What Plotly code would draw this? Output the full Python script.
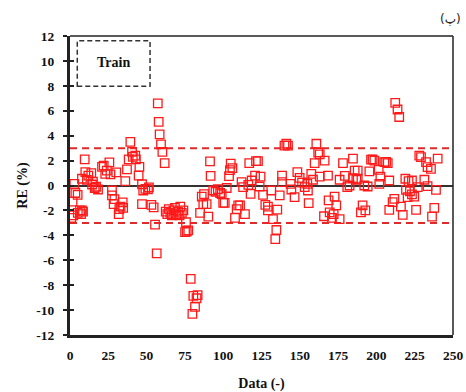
import plotly.graph_objects as go

# Data (index, relative error %)
data_x = [0.9, 1.7, 2.2, 2.8, 3.5, 5.0, 5.1, 6.5, 7.2, 7.8, 7.8, 8.5, 9.6, 10.0, 11.0, 12.0, 13.9, 14.4, 15.0, 16.1, 17.0, 18.3,
          20.9, 22.0, 23.0, 24.0, 25.7, 26.4, 27.4, 27.4, 28.5, 29.0, 30.2, 31.8, 32.2, 33.0, 34.4, 34.7, 36.1, 37.2, 38.3,
          39.4, 40.5, 41.0, 42.6, 43.0, 44.8, 45.3, 47.0, 47.0, 47.8, 49.2, 50.9, 51.5, 53.1, 54.6, 55.5, 56.6, 57.3, 57.9,
          58.5, 59.4, 60.3, 61.8, 62.5, 63.5, 64.5, 65.5, 66.5, 67.5, 68.5, 69.5, 70.5, 71.5, 72.0, 73.0, 74.0, 75.1, 75.7,
          76.2, 77.2, 78.8, 79.9, 80.5, 81.6, 82.6, 83.3, 84.9, 86.0, 87.0, 87.5, 89.2, 90.3, 91.4, 91.8, 93.5, 95.0, 96.5,
          98.0, 99.0, 100.0, 101.0, 102.3, 103.8, 104.4, 104.9, 106.0, 107.7, 108.8, 109.8, 111.0, 112.0, 113.0, 114.2,
          116.4, 117.0, 117.9, 118.6, 120.8, 121.4, 122.7, 123.8, 124.4, 126.0, 127.5, 129.2, 129.2, 131.4, 132.5, 134.0,
          134.7, 135.3, 136.9, 138.4, 138.4, 140.0, 141.2, 142.3, 144.0, 144.5, 146.6, 148.4, 149.9, 151.5, 153.2, 154.9,
          155.3, 155.8, 157.5, 158.6, 159.7, 160.8, 162.0, 163.0, 163.0, 165.8, 166.2, 168.4, 168.8, 169.5, 171.0, 172.1,
          172.7, 173.8, 176.0, 176.0, 178.2, 179.4, 181.0, 182.5, 184.7, 184.7, 185.8, 186.9, 187.8, 187.8, 189.9, 191.0,
          192.1, 192.8, 194.3, 195.4, 196.5, 197.5, 198.7, 201.5, 201.9, 202.6, 205.2, 206.3, 207.4, 208.4, 208.4, 210.6,
          211.7, 212.3, 213.8, 214.9, 216.0, 217.2, 218.9, 219.3, 220.4, 221.0, 221.9, 223.2, 223.2, 224.7, 225.9, 227.0,
          228.0, 229.1, 231.3, 232.4, 233.4, 233.4, 235.6, 236.3, 237.8, 238.9, 240.0]
data_re = [-2.6, -1.3, -2.4, 0.13, -0.6, -0.75, -2.2, -2.0, -2.3, 0.54, -2.0, -2.1, 2.1, 1.07, 0.45, 0.8, 1.0, 0.08, 0.3, -0.2, -0.1, -0.32,
           1.5, 1.6, 0.94, 1.2, 1.85, 0.9, -0.4, -0.8, -1.5, -1.1, 1.05, -2.3, -1.9, -1.7, -1.35, -1.8, 0.35, 1.3, 2.1,
           3.5, 2.7, 2.3, 2.4, 2.1, 0.8, 1.5, 0.1, -1.5, -0.4, -0.27, -0.3, -0.15, -1.55, -1.75, -3.14, -5.45, 6.6, 5.1,
           4.1, 3.3, 2.7, 1.8, -2.1, -2.3, -1.9, -2.2, -2.4, -2.0, -1.8, -2.3, -2.1, -2.4, -1.7, -2.2, -2.0, -3.75, -2.95,
           -3.7, -3.6, -7.5, -10.3, -8.86, -9.74, -9.05, -8.8, -2.2, -0.9, -1.5, -0.7, -1.5, -2.5, 1.93, 0.78, -0.4, -0.5, -0.3,
           -0.6, -0.7, -1.4, -1.4, -0.2, 0.75, 1.23, 1.75, 1.4, -2.6, -1.9, -1.6, -1.6, 0.27, -0.13, -2.3,
           0.05, 1.8, -0.67, 0.4, 0.8, 1.96, 1.96, -0.08, 0.72, -0.75, -1.56, -2.0, -1.7, -0.4, -2.7, -4.3,
           -3.57, -1.93, -0.8, 0.8, 0.27, 3.2, 3.35, 3.2, 0.13, -0.32, -0.94, 1.07, 0.62, 0.24, -0.13, 0.13,
           -0.4, -1.42, 0.94, 0.46, 1.8, 3.35, 2.65, 2.5, 0.72, -2.47, 2.0, 0.8, -1.2, -2.15, -2.6, -2.3,
           -0.89, -1.6, -2.7, 0.46, 1.8, 0.78, -0.13, 0.0, 2.15, 0.6, 1.2, 0.46, 0.54, 1.2, -2.15, -1.6,
           0.0, -2.0, -0.08, 1.13, 2.07, 2.1, 2.0, 1.26, 0.13, 0.72, 1.88, 1.9, 1.8, 0.4, -1.96, -1.34,
           -1.07, 6.63, 6.1, 5.5, -1.7, -2.36, 0.54, -0.35, -0.94, 0.35, -0.46, 0.4, -0.72, -0.9, -1.96, -0.13,
           2.4, 2.28, 0.46, 1.88, 1.47, -0.05, 1.34, -2.5, -1.8, -0.35, 2.15]

limits = [3, -3]
x_range = [0, 250]
y_range = [-12, 12]
x_ticks = [0, 25, 50, 75, 100, 125, 150, 175, 200, 225, 250]
y_ticks = [-12, -10, -8, -6, -4, -2, 0, 2, 4, 6, 8, 10, 12]
legend_label = "Train"
panel_label = "(پ)"

serif = "Liberation Serif, Times New Roman, serif"

fig = go.Figure()
fig.add_trace(go.Scatter(
    x=data_x, y=data_re, mode="markers",
    marker=dict(symbol="square-open", size=8.5, color="#ff1a1a", line=dict(width=1.3, color="#ff1a1a")),
    showlegend=False, hoverinfo="skip"))
# dummy trace so the overlay axis (inner ticks) is drawn
fig.add_trace(go.Scatter(x=[None], y=[None], yaxis="y2", mode="markers", showlegend=False, hoverinfo="skip"))

for v in limits:
    fig.add_shape(type="line", xref="x", yref="y", x0=x_range[0], x1=x_range[1], y0=v, y1=v,
                  line=dict(color="#e02a2a", width=2, dash="7px,5px"), layer="below")

# thin top/right frame
fig.add_shape(type="line", xref="paper", yref="paper", x0=0, x1=1, y0=1, y1=1, line=dict(color="#222", width=1.5))
fig.add_shape(type="line", xref="paper", yref="paper", x0=1, x1=1, y0=0, y1=1, line=dict(color="#222", width=1.5))

# legend-like dashed box
fig.add_shape(type="rect", xref="paper", yref="paper", x0=0.019, x1=0.209, y0=0.832, y1=0.984,
              line=dict(color="#333", width=1.5, dash="5px,3px"), fillcolor="rgba(0,0,0,0)")
fig.add_annotation(xref="paper", yref="paper", x=0.114, y=0.91, xanchor="center", yanchor="middle",
                   text="<b>" + legend_label + "</b>",
                   showarrow=False, font=dict(family=serif, size=14, color="#111"))

fig.add_annotation(xref="paper", yref="paper", x=1.027, y=1.058, xanchor="right", yanchor="middle",
                   text=panel_label, showarrow=False, font=dict(family="DejaVu Sans", size=12, color="#222"))

fig.update_layout(
    width=466, height=392,
    margin=dict(l=70, r=13, t=36, b=57, autoexpand=False),
    paper_bgcolor="white", plot_bgcolor="white",
    font=dict(family=serif, size=13, color="#111"),
    xaxis=dict(range=x_range, tickmode="array", tickvals=x_ticks, automargin=False,
               ticktext=["<b>%d</b>" % v for v in x_ticks], showgrid=False, zeroline=False,
               showline=True, linecolor="#222", linewidth=3, ticks="", ticklabelstandoff=6,
               tickfont=dict(family=serif, size=13.5),
               title=dict(text="<b>Data (-)</b>", font=dict(family=serif, size=14), standoff=16)),
    yaxis=dict(range=y_range, tickmode="array", tickvals=y_ticks, automargin=False,
               ticktext=["<b>%d</b>" % v for v in y_ticks], showgrid=False,
               zeroline=True, zerolinecolor="#333", zerolinewidth=2,
               showline=True, linecolor="#222", linewidth=3, ticks="outside", ticklen=4, tickwidth=2,
               tickcolor="#222", ticklabelstandoff=6,
               tickfont=dict(family=serif, size=13.5),
               title=dict(text="<b>RE (%)</b>", font=dict(family=serif, size=14), standoff=6)),
    yaxis2=dict(range=y_range, tickmode="array", tickvals=y_ticks, overlaying="y", side="left", anchor="x",
                automargin=False,
                showgrid=False, zeroline=False, showline=False, showticklabels=False,
                ticks="inside", ticklen=4, tickwidth=2, tickcolor="#222"),
)

fig.write_html("out.html")
